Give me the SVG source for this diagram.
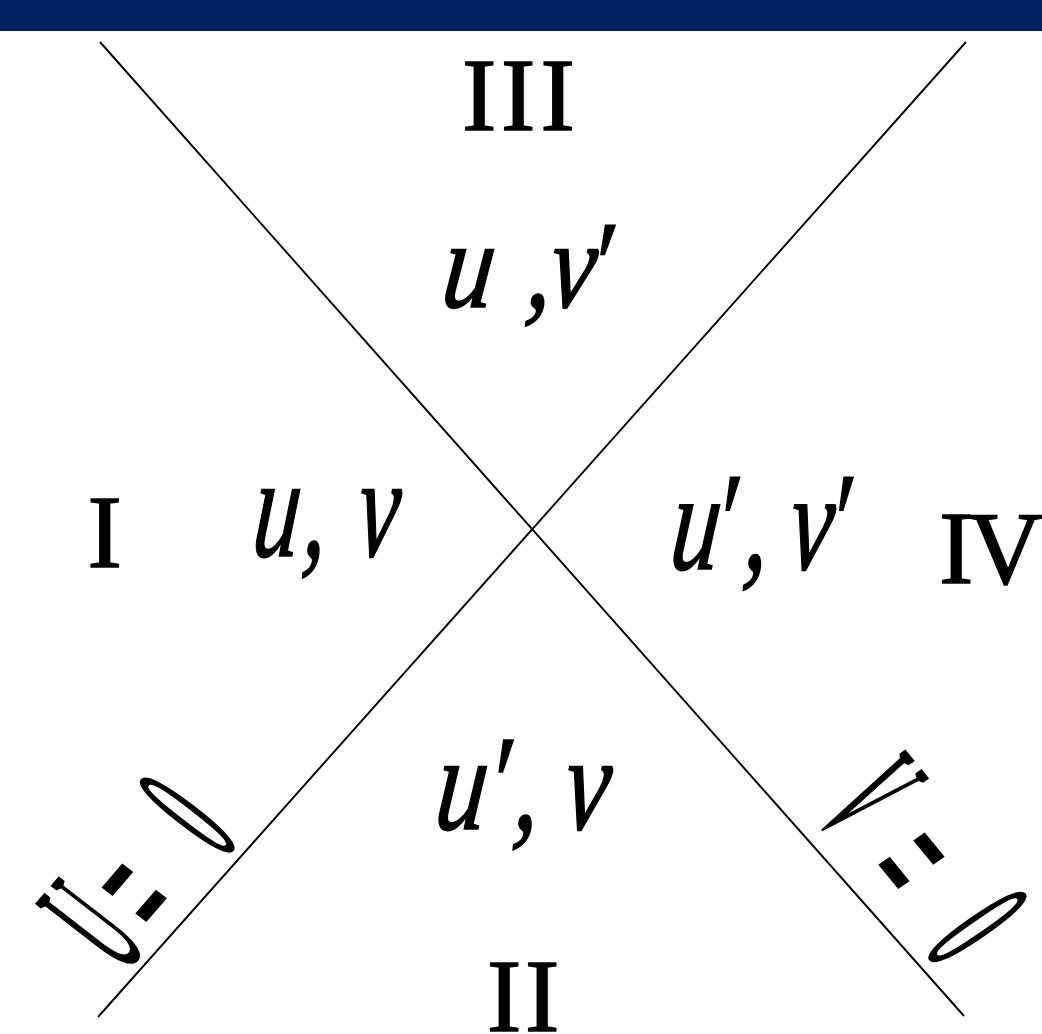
<svg xmlns="http://www.w3.org/2000/svg" width="1042" height="1034" viewBox="0 0 1042 1034">
<style>
.rom{font-family:"Liberation Serif","Times New Roman",serif;font-size:103px;fill:#000;stroke:#000;stroke-width:1.6}
.it{font-family:"Liberation Serif","Times New Roman",serif;font-style:italic;fill:#000;stroke:#000;stroke-width:1.6}
.eq{font-family:"Liberation Serif","Times New Roman",serif;font-size:100px;fill:#000;stroke:#000;stroke-width:2}
.ax{stroke:#000;stroke-width:1.9;fill:none}
</style>
<rect id="header-bar" x="0" y="0" width="1042" height="31" fill="#002060"/>
<g id="connectors">
<line class="ax" x1="100" y1="42" x2="964" y2="1016"/>
<line class="ax" x1="966" y1="42" x2="98" y2="1017"/>
</g>
<g id="region-III"><text class="rom" x="461.9 500.9 540.4" y="130">III</text></g>
<g id="region-I"><text class="rom" x="87.4" y="567">I</text></g>
<g id="region-II"><text class="rom" x="486.9 524.9" y="1031">II</text></g>
<g id="region-IV"><text class="rom" x="938.9 968.3" y="583">IV</text></g>
<g id="label-III"><text class="it" font-size="125" transform="translate(0,307) scale(0.82,1) skewX(-8)" x="536 598 639.4 666.7 710.5" y="0">u ,v'</text></g>
<g id="label-I"><text class="it" font-size="145" transform="translate(0,555.5) scale(0.645,1) skewX(-8)" x="388.2 466.9 495 550" y="0">u, v</text></g>
<g id="label-IV"><text class="it" font-size="140" transform="translate(0,568.5) scale(0.70,1) skewX(-8)" x="954.3 1012 1059.9 1085 1123.6 1174.3" y="0">u', v'</text></g>
<g id="label-II"><text class="it" font-size="136" transform="translate(0,828.5) scale(0.75,1) skewX(-8)" x="577 641 682.2 705 748.2" y="0">u', v</text></g>
<g id="label-U0"><text class="eq" transform="matrix(0.341,-0.393,1.335,1.034,119.8,977.1)" y="0"><tspan x="10.2">U</tspan> <tspan x="110" dy="15.5" font-size="126">=</tspan> <tspan x="301" dy="-15.5">0</tspan></text></g>
<g id="label-V0"><text class="eq" transform="matrix(0.329,0.402,-1.386,0.963,813.2,813.5)" y="0"><tspan x="0">V</tspan> <tspan x="147.5" dy="14.5" font-size="126">=</tspan> <tspan x="336" dy="-14.5">0</tspan></text></g>
</svg>
